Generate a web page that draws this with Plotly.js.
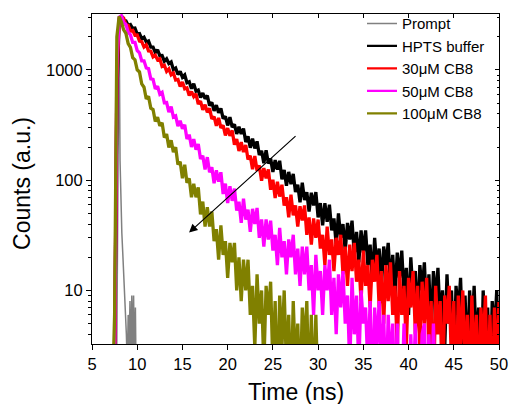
<!DOCTYPE html>
<html>
<head>
<meta charset="utf-8">
<script src="https://cdn.plot.ly/plotly-3.0.1.min.js"></script>
<style>
  html, body { margin: 0; padding: 0; background: #ffffff; }
  #chart { width: 509px; height: 404px; }
</style>
</head>
<body>
<div id="chart"></div>
<script>
// ---- data ----
var seriesNames = ['Prompt', 'HPTS buffer', '30\u03bcM CB8', '50\u03bcM CB8', '100\u03bcM CB8'];
var xTitle = 'Time (ns)';
var yTitle = 'Counts (a.u.)';

// time channels (ns) shared by the four decay curves
var time = [
  7.25, 7.5, 7.75, 8.0,
  8.25, 8.5, 8.75, 9.0,  9.25, 9.5, 9.75, 10.0,  10.25, 10.5, 10.75, 11.0,
  11.25, 11.5, 11.75, 12.0,  12.25, 12.5, 12.75, 13.0,  13.25, 13.5, 13.75, 14.0,
  14.25, 14.5, 14.75, 15.0,  15.25, 15.5, 15.75, 16.0,  16.25, 16.5, 16.75, 17.0,
  17.25, 17.5, 17.75, 18.0,  18.25, 18.5, 18.75, 19.0,  19.25, 19.5, 19.75, 20.0,
  20.25, 20.5, 20.75, 21.0,  21.25, 21.5, 21.75, 22.0,  22.25, 22.5, 22.75, 23.0,
  23.25, 23.5, 23.75, 24.0,  24.25, 24.5, 24.75, 25.0,  25.25, 25.5, 25.75, 26.0,
  26.25, 26.5, 26.75, 27.0,  27.25, 27.5, 27.75, 28.0,  28.25, 28.5, 28.75, 29.0,
  29.25, 29.5, 29.75, 30.0,  30.25, 30.5, 30.75, 31.0,  31.25, 31.5, 31.75, 32.0,
  32.25, 32.5, 32.75, 33.0,  33.25, 33.5, 33.75, 34.0,  34.25, 34.5, 34.75, 35.0,
  35.25, 35.5, 35.75, 36.0,  36.25, 36.5, 36.75, 37.0,  37.25, 37.5, 37.75, 38.0,
  38.25, 38.5, 38.75, 39.0,  39.25, 39.5, 39.75, 40.0,  40.25, 40.5, 40.75, 41.0,
  41.25, 41.5, 41.75, 42.0,  42.25, 42.5, 42.75, 43.0,  43.25, 43.5, 43.75, 44.0,
  44.25, 44.5, 44.75, 45.0,  45.25, 45.5, 45.75, 46.0,  46.25, 46.5, 46.75, 47.0,
  47.25, 47.5, 47.75, 48.0,  48.25, 48.5, 48.75, 49.0,  49.25, 49.5, 49.75, 50.0
];

var hptsBuffer = [
  null, 2, 600, 2750,
  3119, 2822, 2789, 2531,  2582, 2380, 2403, 2121,  2139, 1920, 1982, 1796,
  1833, 1614, 1613, 1440,  1527, 1348, 1353, 1201,  1260, 1144, 1182, 1008,
  1042, 909, 971, 860,  903, 767, 782, 677,  752, 642, 658, 564,
  618, 549, 587, 476,  509, 426, 479, 410,  448, 362, 380, 314,
  373, 303, 321, 263,  305, 263, 294, 222,  250, 197, 238, 194,
  225, 169, 185, 143,  187, 142, 157, 119,  152, 125, 150, 102,
  124, 89, 119, 92,  114, 78, 91, 63,  95, 66, 78, 52,
  77, 59, 78, 46,  62, 39, 62, 42,  60, 35, 45, 26,
  50, 30, 40, 23,  41, 29, 43, 21,  34, 18, 35, 22,
  35, 17, 26, 12,  30, 16, 24, 11,  25, 17, 27, 11,
  21, 9, 22, 13,  23, 9, 16, 6,  20, 9, 15, 5,
  17, 10, 18, 6,  14, 4, 15, 8,  16, 5, 10, 3,
  14, 5, 10, 2,  11, 6, 13, 3,  9, 2, 10, 4,
  11, 3, 7, 1,  10, 3, 7, 1,  8, 4, 10, 1
];

var cb8_30 = [
  null, 2, 800, 2900,
  2993, 2960, 2573, 2544,  2267, 2289, 2066, 2077,  1831, 1811, 1616, 1687,
  1490, 1481, 1313, 1361,  1238, 1266, 1079, 1103,  971, 1024, 906, 940,
  811, 820, 708, 777,  675, 687, 587, 636,  574, 608, 491, 522,
  435, 484, 413, 448,  360, 378, 311, 368,  298, 314, 255, 297,
  253, 283, 210, 236,  184, 222, 180, 209,  154, 167, 126, 166,
  122, 136, 99, 129,  104, 125, 82, 101,  69, 97, 71, 91,
  59, 70, 46, 74,  48, 59, 38, 58,  43, 59, 32, 46,
  26, 45, 30, 44,  24, 32, 17, 38,  21, 29, 15, 30,
  21, 32, 14, 25,  11, 26, 15, 27,  12, 19, 8, 23,
  11, 17, 7, 19,  12, 21, 7, 15,  5, 17, 8, 18,
  6, 11, 3, 15,  6, 11, 3, 13,  7, 15, 4, 11,
  3, 12, 5, 13,  3, 8, 1, 11,  4, 8, 1, 9,
  5, 11, 2, 8,  1, 9, 3, 10,  2, 6, 1, 9,
  2, 6, 1, 7,  3, 9, 1, 6,  1, 7, 2, 8
];

var cb8_50 = [
  null, 2, 1100, 3000,
  3102, 2703, 2596, 2202,  2081, 1780, 1779, 1502,  1432, 1209, 1210, 1043,
  1031, 829, 821, 673,  711, 604, 627, 505,  507, 415, 466, 374,
  383, 310, 346, 293,  319, 237, 259, 200,  236, 189, 213, 156,
  167, 125, 162, 118,  131, 94, 123, 97,  118, 75, 93, 62,
  88, 65, 84, 53,  64, 41, 68, 44,  54, 34, 55, 40,
  56, 30, 44, 25,  44, 29, 43, 23,  32, 17, 37, 20,
  28, 14, 29, 20,  32, 14, 24, 11,  25, 14, 25, 10,
  17, 6, 21, 10,  15, 6, 17, 10,  19, 6, 13, 4,
  14, 7, 15, 5,  9, 2, 13, 4,  9, 2, 10, 5,
  7, 2, 8, 1,  7, 3, 8, 2,  6, 1, 6, 2,
  5, 1, 5, 1,  1, 5, 1, 1,  4, 1, 5, 1,
  1, 4, 5, 1,  4, 1, 5, 1
];

var cb8_100 = [
  1, 6, 2000, 3060,
  2722, 2310, 2151, 1735,  1604, 1293, 1237, 1004,  960, 747, 697, 546,
  577, 451, 438, 341,  373, 311, 332, 244,  262, 198, 230, 180,
  199, 139, 147, 104,  138, 95, 104, 70,  93, 70, 86, 49,
  64, 38, 57, 38,  52, 28, 36, 19,  39, 21, 28, 13,
  27, 18, 27, 10,  20, 8, 19, 10,  19, 6, 11, 3,
  14, 5, 10, 2,  11, 6, 12, 2,  8, 1, 9, 3,
  10, 2, 6, 1,  8, 2, 5, 1,  7, 3, 8, 1,
  6, 1, 6, 1
];

// instrument response (prompt), finer channels
var promptTime = [7.7, 7.8, 7.9, 8.0, 8.1, 8.2, 8.3, 8.4, 8.5, 8.6, 8.7, 8.8,
                  8.9, 9.0, 9.1, 9.2, 9.3, 9.4, 9.5, 9.6, 9.7, 9.8, 9.9];
var promptCounts = [1, 20, 800, 3100, 150, 62, 33, 22, 15, 11, 7, 4,
                    2, 6, 3, 8, 2, 9, 3, 9, 2, 7, 1];

var xTickVals = [5, 10, 15, 20, 25, 30, 35, 40, 45, 50];
var yTickVals = [10, 100, 1000];
var yTickText = ['10', '100', '1000'];
var yMinorVals = [4, 5, 6, 7, 8, 9, 20, 30, 40, 50, 60, 70, 80, 90,
                  200, 300, 400, 500, 600, 700, 800, 900, 2000, 3000];

// ---- drawing ----
var colors = ['#808080', '#000000', '#ff0000', '#ff00ff', '#808000'];
var FONT = 'Liberation Sans, Arial, Helvetica, sans-serif';

function decay(i, xs, ys, w) {
  return {
    type: 'scatter', mode: 'lines', name: seriesNames[i],
    legendgroup: 'g' + i, showlegend: false,
    x: xs, y: ys,
    line: {color: colors[i], width: w},
    connectgaps: false, hoverinfo: 'skip'
  };
}
// legend entries (thin key lines, as in the original legend)
function key(i, w) {
  return {
    type: 'scatter', mode: 'lines', name: seriesNames[i],
    legendgroup: 'g' + i, showlegend: true,
    x: [null], y: [null],
    line: {color: colors[i], width: w}, hoverinfo: 'skip'
  };
}

var traces = [
  decay(0, promptTime, promptCounts, 1.5),
  decay(1, time, hptsBuffer, 3.3),
  decay(2, time, cb8_30, 3.3),
  decay(3, time, cb8_50, 3.3),
  decay(4, time, cb8_100, 3.3),
  key(0, 1.5), key(1, 2.2), key(2, 2.2), key(3, 2.2), key(4, 2.2),
  // carrier for the mirrored top/right axes
  {type: 'scatter', mode: 'lines', x: [], y: [], xaxis: 'x2', yaxis: 'y2',
   showlegend: false, hoverinfo: 'skip'}
];

var xRange = [5, 50];
var yRange = [0.514, 3.508];

var layout = {
  width: 509, height: 404,
  margin: {l: 92, r: 10, t: 14, b: 60, pad: 0, autoexpand: false},
  paper_bgcolor: '#ffffff', plot_bgcolor: '#ffffff',
  font: {family: FONT, color: '#000000', size: 16.5},
  showlegend: true,
  legend: {
    xref: 'paper', yref: 'container',
    x: 0.6634, y: 0.9822, xanchor: 'left', yanchor: 'top',
    bgcolor: 'rgba(0,0,0,0)', borderwidth: 0,
    font: {family: FONT, size: 15, color: '#000000'},
    tracegroupgap: 0, traceorder: 'normal'
  },
  xaxis: {
    range: xRange, type: 'linear',
    tickmode: 'array', tickvals: xTickVals,
    ticks: 'outside', ticklen: 5, tickwidth: 1, tickcolor: '#000000',
    showline: true, linecolor: '#000000', linewidth: 1,
    showgrid: false, zeroline: false,
    tickfont: {family: FONT, size: 16.5, color: '#000000'}
  },
  yaxis: {
    type: 'log', range: yRange,
    tickmode: 'array', tickvals: yTickVals, ticktext: yTickText,
    ticks: 'outside', ticklen: 5, tickwidth: 1, tickcolor: '#000000',
    minor: {tickmode: 'array', tickvals: yMinorVals, ticks: 'outside', ticklen: 3, tickwidth: 1, tickcolor: '#000000', showgrid: false},
    showline: true, linecolor: '#000000', linewidth: 1,
    showgrid: false, zeroline: false,
    tickfont: {family: FONT, size: 16.5, color: '#000000'}
  },
  xaxis2: {
    overlaying: 'x', side: 'top', anchor: 'y2', range: xRange, type: 'linear',
    tickmode: 'array', tickvals: xTickVals, showticklabels: false,
    ticks: 'inside', ticklen: 4, tickwidth: 1, tickcolor: '#000000',
    showline: true, linecolor: '#000000', linewidth: 1,
    showgrid: false, zeroline: false
  },
  yaxis2: {
    overlaying: 'y', side: 'right', anchor: 'x2', type: 'log', range: yRange,
    tickmode: 'array', tickvals: yTickVals, showticklabels: false,
    ticks: 'inside', ticklen: 4, tickwidth: 1, tickcolor: '#000000',
    minor: {tickmode: 'array', tickvals: yMinorVals, ticks: 'inside', ticklen: 2.5, tickwidth: 1, tickcolor: '#000000', showgrid: false},
    showline: true, linecolor: '#000000', linewidth: 1,
    showgrid: false, zeroline: false
  },
  annotations: [
    {
      xref: 'x', yref: 'y', axref: 'x', ayref: 'y',
      x: 15.73, y: 1.525, ax: 27.67, ay: 2.412,
      text: '', showarrow: true,
      arrowhead: 2, arrowsize: 1.4, arrowwidth: 1.2, arrowcolor: '#000000', standoff: 0
    },
    {
      xref: 'paper', yref: 'paper', x: 0.5, y: -0.1455,
      xanchor: 'center', yanchor: 'middle', showarrow: false,
      text: xTitle, font: {family: FONT, size: 23, color: '#000000'}
    },
    {
      xref: 'paper', yref: 'paper', x: -0.1708, y: 0.4864,
      xanchor: 'center', yanchor: 'middle', showarrow: false, textangle: -90,
      text: yTitle, font: {family: FONT, size: 23, color: '#000000'}
    }
  ]
};

Plotly.newPlot('chart', traces, layout, {displayModeBar: false, staticPlot: true});
</script>
</body>
</html>
